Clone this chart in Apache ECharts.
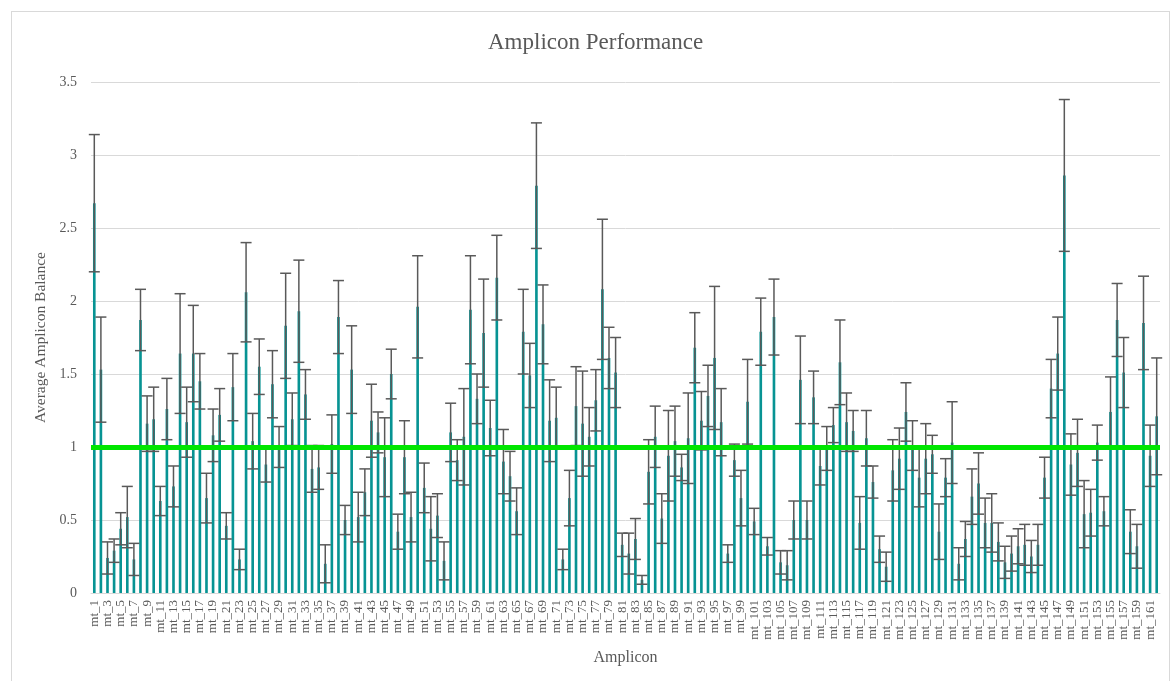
<!DOCTYPE html>
<html>
<head>
<meta charset="utf-8">
<script src="https://cdn.jsdelivr.net/npm/echarts@6/dist/echarts.min.js"></script>
<style>
html,body{margin:0;padding:0;background:#fff;}
#frame{position:absolute;left:11px;top:11px;width:1159px;height:680px;border:1px solid #d9d9d9;box-sizing:border-box;}
#chart{position:absolute;left:0;top:0;width:1174px;height:681px;}
</style>
</head>
<body>
<div id="frame"></div>
<div id="chart"></div>
<script>
const categoryCount = 162;
const categories = [];
for (let i = 1; i <= categoryCount; i++) categories.push('mt_' + i);

const means = [
 2.67,1.53,0.24,0.29,0.44,0.52,0.23,1.87,1.16,1.19,
 0.63,1.26,0.73,1.64,1.17,1.64,1.45,0.65,1.08,1.22,
 0.46,1.41,0.23,2.06,1.04,1.55,0.88,1.43,1.00,1.83,
 1.19,1.93,1.36,0.85,0.86,0.20,1.02,1.89,0.50,1.53,
 0.52,0.69,1.18,1.10,0.93,1.50,0.42,0.93,0.52,1.96,
 0.72,0.44,0.53,0.22,1.10,0.91,1.07,1.94,1.33,1.78,
 1.13,2.16,0.90,0.80,0.56,1.79,1.49,2.79,1.84,1.18,
 1.20,0.23,0.65,1.28,1.16,1.07,1.32,2.08,1.61,1.51,
 0.33,0.27,0.37,0.09,0.83,1.07,0.51,0.94,1.04,0.86,
 1.06,1.68,1.18,1.35,1.61,1.17,0.27,0.91,0.65,1.31,
 0.49,1.79,0.32,1.89,0.21,0.19,0.50,1.46,0.50,1.34,
 0.87,0.99,1.15,1.58,1.17,1.11,0.48,1.06,0.76,0.30,
 0.18,0.84,0.92,1.24,1.01,0.79,0.92,0.95,0.42,0.79,
 1.03,0.20,0.37,0.66,0.75,0.48,0.48,0.35,0.21,0.27,
 0.32,0.33,0.25,0.33,0.79,1.40,1.64,2.86,0.88,0.96,
 0.54,0.55,1.03,0.56,1.24,1.87,1.51,0.42,0.32,1.85,
 0.94,1.21
];
const errors = [
 0.47,0.36,0.11,0.08,0.11,0.21,0.11,0.21,0.19,0.22,
 0.10,0.21,0.14,0.41,0.24,0.33,0.19,0.17,0.18,0.18,
 0.09,0.23,0.07,0.34,0.19,0.19,0.12,0.23,0.14,0.36,
 0.18,0.35,0.17,0.16,0.15,0.13,0.20,0.25,0.10,0.30,
 0.17,0.16,0.25,0.14,0.27,0.17,0.12,0.25,0.17,0.35,
 0.17,0.22,0.15,0.13,0.20,0.14,0.33,0.37,0.17,0.37,
 0.19,0.29,0.22,0.17,0.16,0.29,0.22,0.43,0.27,0.28,
 0.21,0.07,0.19,0.27,0.36,0.20,0.21,0.48,0.21,0.24,
 0.08,0.14,0.14,0.03,0.22,0.21,0.17,0.31,0.24,0.09,
 0.31,0.24,0.20,0.21,0.49,0.23,0.06,0.11,0.19,0.29,
 0.09,0.23,0.06,0.26,0.08,0.10,0.13,0.30,0.13,0.18,
 0.13,0.15,0.12,0.29,0.20,0.14,0.18,0.19,0.11,0.09,
 0.10,0.21,0.21,0.20,0.17,0.20,0.24,0.13,0.19,0.13,
 0.28,0.11,0.12,0.19,0.21,0.17,0.20,0.13,0.11,0.12,
 0.12,0.14,0.11,0.14,0.14,0.20,0.25,0.52,0.21,0.23,
 0.23,0.16,0.12,0.10,0.24,0.25,0.24,0.15,0.15,0.32,
 0.21,0.40
];
const referenceLevel = 1;
const yTicks = {min: 0, max: 3.5, step: 0.5};

const serif = "'Liberation Serif', 'Times New Roman', serif";
const errData = means.map((m, i) => [i, m - errors[i], m + errors[i]]);

const chart = echarts.init(document.getElementById('chart'), null, {renderer: 'canvas'});
chart.setOption({
  animation: false,
  backgroundColor: 'transparent',
  title: {
    text: 'Amplicon Performance',
    left: 483,
    top: 26,
    padding: 5,
    textStyle: {fontFamily: serif, fontSize: 23, fontWeight: 'normal', color: '#595959'}
  },
  grid: {left: 91, right: 14, top: 82, bottom: 88, containLabel: false},
  xAxis: {
    type: 'category',
    data: categories,
    name: 'Amplicon',
    nameLocation: 'middle',
    nameGap: 57,
    nameTextStyle: {fontFamily: serif, fontSize: 16, color: '#595959'},
    axisTick: {show: false},
    axisLine: {lineStyle: {color: '#d9d9d9', width: 1}},
    axisLabel: {rotate: 90, interval: 1, fontFamily: serif, fontSize: 13, color: '#595959', margin: 7}
  },
  yAxis: {
    type: 'value',
    min: yTicks.min, max: yTicks.max, interval: yTicks.step,
    name: 'Average Amplicon Balance',
    nameLocation: 'middle',
    nameGap: 38,
    nameRotate: 90,
    nameTextStyle: {fontFamily: serif, fontSize: 15.5, color: '#595959'},
    axisLine: {show: false},
    axisTick: {show: false},
    axisLabel: {fontFamily: serif, fontSize: 14, color: '#595959', margin: 14},
    splitLine: {lineStyle: {color: '#d9d9d9', width: 1}}
  },
  series: [
    {
      type: 'bar',
      data: means,
      barWidth: '40%',
      itemStyle: {color: '#079393'},
      z: 2
    },
    {
      type: 'custom',
      data: errData,
      z: 3,
      renderItem: function (params, api) {
        const x = api.value(0);
        const lo = api.coord([x, api.value(1)]);
        const hi = api.coord([x, api.value(2)]);
        const hw = 5.5;
        const st = {stroke: '#595959', lineWidth: 1.5};
        return {
          type: 'group',
          children: [
            {type: 'line', shape: {x1: lo[0], y1: lo[1], x2: hi[0], y2: hi[1]}, style: st},
            {type: 'line', shape: {x1: hi[0] - hw, y1: hi[1], x2: hi[0] + hw, y2: hi[1]}, style: st},
            {type: 'line', shape: {x1: lo[0] - hw, y1: lo[1], x2: lo[0] + hw, y2: lo[1]}, style: st}
          ]
        };
      }
    },
    {
      type: 'line',
      data: [],
      z: 5,
      markLine: {
        silent: true,
        symbol: ['none', 'none'],
        label: {show: false},
        lineStyle: {color: '#00e600', width: 5, type: 'solid'},
        data: [{yAxis: referenceLevel}]
      }
    }
  ]
});
</script>
</body>
</html>
